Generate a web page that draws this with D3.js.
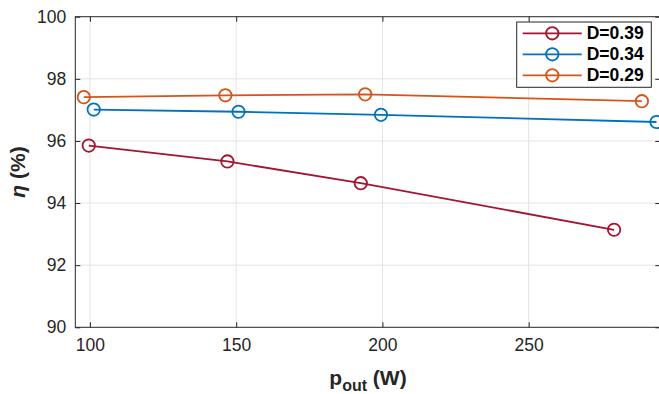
<!DOCTYPE html>
<html>
<head>
<meta charset="utf-8">
<script src="https://cdn.jsdelivr.net/npm/d3@7"></script>
<style>
  body { margin: 0; background: #fff; }
  svg { display: block; font-family: "Liberation Sans", Arial, sans-serif; }
</style>
</head>
<body>
<div id="chart"></div>
<script>
// data
const seriesNames = ["D=0.39", "D=0.34", "D=0.29"];
const seriesColors = ["#A2142F", "#0072BD", "#D95319"];
const pout39 = [99.6, 147.0, 192.6, 279.2];
const eta39 = [95.85, 95.34, 94.64, 93.14];
const pout34 = [101.3, 150.8, 199.5, 293.7];
const eta34 = [97.01, 96.94, 96.84, 96.61];
const pout29 = [97.9, 146.3, 194.1, 288.7];
const eta29 = [97.41, 97.47, 97.50, 97.28];
const xTicks = [100, 150, 200, 250];
const yTicks = [90, 92, 94, 96, 98, 100];

const series = [
    { name: seriesNames[0], color: seriesColors[0], x: pout39, y: eta39 },
    { name: seriesNames[1], color: seriesColors[1], x: pout34, y: eta34 },
    { name: seriesNames[2], color: seriesColors[2], x: pout29, y: eta29 }
];

const W = 659, H = 394;
const margin = { top: 16.7, left: 75.3 };
const width = 585, height = 310.6;

const svg = d3.select("#chart").append("svg")
    .attr("width", W)
    .attr("height", H);

const g = svg.append("g")
    .attr("transform", `translate(${margin.left}, ${margin.top})`);

const x = d3.scaleLinear().domain([95, 295]).range([0, width]);
const y = d3.scaleLinear().domain([90, 100]).range([height, 0]);

// grid
g.append("g").selectAll("line")
    .data(xTicks)
    .join("line")
    .attr("x1", d => x(d)).attr("x2", d => x(d))
    .attr("y1", 0).attr("y2", height)
    .attr("stroke", "#e3e3e3").attr("stroke-width", 1);

g.append("g").selectAll("line")
    .data(yTicks.slice(1, -1))
    .join("line")
    .attr("x1", 0).attr("x2", width)
    .attr("y1", d => y(d)).attr("y2", d => y(d))
    .attr("stroke", "#e3e3e3").attr("stroke-width", 1);

// axes (inward ticks, boxed)
const axisStyle = sel => {
    sel.select(".domain").remove();
    sel.selectAll(".tick line").attr("stroke", "#262626");
    sel.selectAll(".tick text").attr("fill", "#262626").style("font-size", "17.5px");
};

g.append("g")
    .attr("transform", `translate(0, ${height})`)
    .call(d3.axisBottom(x).tickValues(xTicks).tickSizeInner(-5).tickPadding(11))
    .call(axisStyle);

g.append("g")
    .call(d3.axisTop(x).tickValues(xTicks).tickSizeInner(-5).tickFormat(""))
    .call(axisStyle);

g.append("g")
    .call(d3.axisLeft(y).tickValues(yTicks).tickSizeInner(-5).tickPadding(9))
    .call(axisStyle);

g.append("g")
    .attr("transform", `translate(${width}, 0)`)
    .call(d3.axisRight(y).tickValues(yTicks).tickSizeInner(-5).tickFormat(""))
    .call(axisStyle);

g.append("rect")
    .attr("width", width).attr("height", height)
    .attr("fill", "none").attr("stroke", "#262626").attr("stroke-width", 1);

// lines and markers
const line = d3.line().x(d => x(d[0])).y(d => y(d[1]));

series.forEach(s => {
    const pts = s.x.map((v, i) => [v, s.y[i]]);
    g.append("path")
        .datum(pts)
        .attr("d", line)
        .attr("fill", "none")
        .attr("stroke", s.color)
        .attr("stroke-width", 1.8);
    g.append("g").selectAll("circle")
        .data(pts)
        .join("circle")
        .attr("cx", d => x(d[0]))
        .attr("cy", d => y(d[1]))
        .attr("r", 6.2)
        .attr("fill", "none")
        .attr("stroke", s.color)
        .attr("stroke-width", 1.8);
});

// axis labels
svg.append("text")
    .attr("transform", "translate(17, 172) rotate(-90)")
    .attr("text-anchor", "middle")
    .attr("dominant-baseline", "central")
    .style("font-size", "21px")
    .style("font-weight", "bold")
    .attr("fill", "#262626")
    .call(t => {
        t.append("tspan").style("font-style", "italic").text("η");
        t.append("tspan").text(" (%)");
    });

const xl = svg.append("text")
    .attr("x", 368)
    .attr("y", 385)
    .attr("text-anchor", "middle")
    .style("font-size", "21px")
    .style("font-weight", "bold")
    .attr("fill", "#262626");
xl.append("tspan").text("p");
xl.append("tspan").attr("dy", 6).style("font-size", "16px").text("out");
xl.append("tspan").attr("dy", -6).text(" (W)");

// legend
const legend = svg.append("g").attr("transform", "translate(516.7, 22)");
legend.append("rect")
    .attr("width", 134.6).attr("height", 65.3)
    .attr("fill", "#fff").attr("stroke", "#262626").attr("stroke-width", 1);

series.forEach((s, i) => {
    const ly = 11.3 + i * 21;
    legend.append("line")
        .attr("x1", 6).attr("x2", 65)
        .attr("y1", ly).attr("y2", ly)
        .attr("stroke", s.color).attr("stroke-width", 1.8);
    legend.append("circle")
        .attr("cx", 35.6).attr("cy", ly).attr("r", 6.2)
        .attr("fill", "none").attr("stroke", s.color).attr("stroke-width", 1.8);
    legend.append("text")
        .attr("x", 70).attr("y", ly)
        .attr("dominant-baseline", "central")
        .style("font-size", "17.5px")
        .style("font-weight", "bold")
        .attr("fill", "#000")
        .text(s.name);
});
</script>
</body>
</html>
